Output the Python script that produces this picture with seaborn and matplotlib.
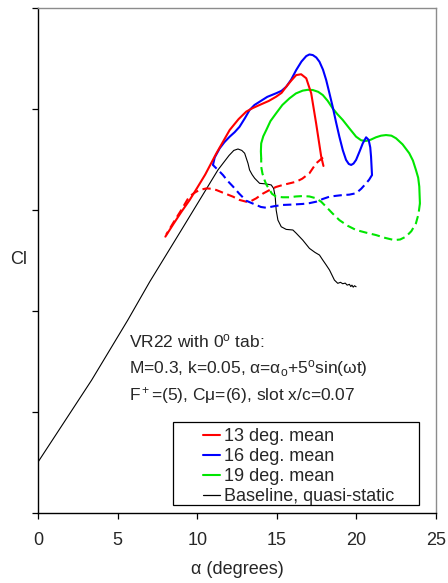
import numpy as np
import pandas as pd
import matplotlib
matplotlib.use("Agg")
import matplotlib.pyplot as plt
from matplotlib.lines import Line2D
from matplotlib.patches import Rectangle
import seaborn as sns

# ---- data: lift coefficient vs angle of attack ----
# 13 deg. mean, pitch-up (solid) and pitch-down (dashed)
red_up_alpha = [8.0, 8.5, 9.0, 9.53, 10.0, 10.5, 11.2, 12.04, 12.6, 13.08, 13.5, 13.92,
                14.5, 14.96, 15.3, 15.59, 15.9, 16.22, 16.53, 16.85, 17.16, 17.47, 17.79, 17.93]
red_up_cl = [1.368, 1.43, 1.49, 1.55, 1.61, 1.675, 1.78, 1.896, 1.95, 1.987, 2.005, 2.02,
             2.04, 2.061, 2.08, 2.11, 2.14, 2.168, 2.172, 2.152, 2.078, 1.929, 1.764, 1.718]
red_dn_alpha = [17.9, 17.47, 17.05, 16.6, 16.22, 15.8, 15.38, 14.95, 14.55, 14.1, 13.71, 13.4,
                13.08, 12.65, 12.25, 11.7, 11.2, 10.9, 10.58, 10.25, 9.95, 9.7, 9.45, 9.0, 8.5, 8.05]
red_dn_cl = [1.76, 1.731, 1.682, 1.655, 1.640, 1.632, 1.624, 1.614, 1.599, 1.58, 1.558, 1.545,
             1.541, 1.55, 1.566, 1.583, 1.599, 1.605, 1.607, 1.601, 1.591, 1.578, 1.56, 1.50,
             1.437, 1.378]

# 16 deg. mean
blue_up_alpha = [10.99, 11.1, 11.41, 11.7, 12.04, 12.35, 12.66, 13.0, 13.29, 13.6, 13.92, 14.4,
                 14.96, 15.3, 15.59, 15.9, 16.22, 16.55, 16.85, 17.05, 17.26, 17.48, 17.68, 17.9,
                 18.1, 18.3, 18.51, 18.72, 18.93, 19.15, 19.35, 19.52, 19.67, 19.82, 19.98, 20.2,
                 20.4, 20.61, 20.77, 20.87, 20.92, 20.98]
blue_up_cl = [1.723, 1.76, 1.805, 1.835, 1.863, 1.885, 1.912, 1.955, 1.995, 2.02, 2.036, 2.06,
              2.078, 2.09, 2.11, 2.145, 2.193, 2.235, 2.262, 2.27, 2.267, 2.255, 2.234, 2.195,
              2.144, 2.08, 2.011, 1.935, 1.863, 1.795, 1.748, 1.728, 1.723, 1.73, 1.748, 1.79,
              1.830, 1.860, 1.847, 1.81, 1.764, 1.673]
blue_dn_alpha = [20.98, 20.8, 20.61, 20.3, 19.98, 19.55, 19.14, 18.7, 18.31, 17.9, 17.47, 17.05,
                 16.63, 16.0, 15.38, 14.85, 14.34, 14.0, 13.71, 13.4, 13.08, 12.65, 12.25, 11.9,
                 11.62, 11.35, 11.1, 10.99]
blue_dn_cl = [1.673, 1.65, 1.632, 1.605, 1.583, 1.576, 1.574, 1.57, 1.566, 1.555, 1.541, 1.534,
              1.530, 1.527, 1.525, 1.519, 1.511, 1.515, 1.525, 1.535, 1.546, 1.58, 1.616, 1.645,
              1.673, 1.695, 1.714, 1.723]

# 19 deg. mean
green_up_alpha = [14.02, 14.0, 14.02, 14.15, 14.34, 14.6, 14.96, 15.35, 15.8, 16.2, 16.63, 16.95,
                  17.26, 17.6, 17.89, 18.2, 18.51, 18.8, 19.14, 19.55, 19.98, 20.3, 20.61, 20.9,
                  21.23, 21.55, 21.86, 22.2, 22.49, 22.9, 23.32, 23.55, 23.74, 23.88, 23.95, 23.99]
green_up_cl = [1.756, 1.79, 1.830, 1.865, 1.896, 1.94, 1.979, 2.02, 2.053, 2.077, 2.091, 2.095,
               2.094, 2.085, 2.069, 2.04, 2.003, 1.975, 1.946, 1.905, 1.863, 1.845, 1.842, 1.848,
               1.860, 1.868, 1.871, 1.868, 1.855, 1.825, 1.781, 1.745, 1.698, 1.66, 1.616, 1.533]
green_dn_alpha = [23.99, 23.9, 23.74, 23.45, 23.11, 22.75, 22.38, 21.8, 21.23, 20.6, 19.98, 19.45,
                  18.93, 18.5, 18.1, 17.8, 17.47, 17.05, 16.63, 16.2, 15.8, 15.38, 14.96, 14.7,
                  14.55, 14.35, 14.23, 14.1, 14.02, 14.02]
green_dn_cl = [1.533, 1.48, 1.434, 1.395, 1.368, 1.354, 1.351, 1.362, 1.376, 1.388, 1.401, 1.422,
               1.450, 1.483, 1.516, 1.540, 1.558, 1.567, 1.569, 1.567, 1.563, 1.563, 1.566, 1.58,
               1.599, 1.625, 1.648, 1.68, 1.714, 1.756]

# Baseline, quasi-static
base_alpha = [0.0, 3.37, 5.64, 7.02, 9.0, 11.3, 12.0, 12.3, 12.56, 12.8, 12.98, 13.19, 13.29,
              13.45, 13.61, 13.92, 14.34, 14.65, 14.80, 14.90, 14.96, 15.07, 15.28, 15.59, 16.01,
              16.22, 16.63, 17.05, 17.4, 17.68, 17.89, 18.1, 18.31, 18.62, 18.83, 19.0, 19.14,
              19.3, 19.42, 19.56, 19.65, 19.72, 19.8, 19.88, 19.98]
base_cl = [0.252, 0.658, 0.955, 1.145, 1.40, 1.698, 1.77, 1.795, 1.802, 1.795, 1.781, 1.731, 1.698,
           1.675, 1.657, 1.632, 1.629, 1.624, 1.607, 1.566, 1.500, 1.45, 1.417, 1.404, 1.401,
           1.385, 1.351, 1.310, 1.29, 1.277, 1.252, 1.228, 1.203, 1.153, 1.137, 1.142, 1.135,
           1.138, 1.128, 1.132, 1.121, 1.128, 1.118, 1.125, 1.120]

legend_labels = ["13 deg. mean", "16 deg. mean", "19 deg. mean", "Baseline, quasi-static"]
series_colors = ["#ff0000", "#0000ff", "#00e600", "#000000"]
x_ticks = [0, 5, 10, 15, 20, 25]
y_ticks = [0.0, 0.5, 1.0, 1.5, 2.0, 2.5]

# ---- styling ----
sns.set_style("ticks")
plt.rcParams["font.family"] = ["Liberation Sans", "DejaVu Sans"]
plt.rcParams["mathtext.fontset"] = "custom"
plt.rcParams["mathtext.rm"] = "Liberation Sans"
plt.rcParams["mathtext.it"] = "Liberation Sans"

W, H = 448, 583
fig = plt.figure(figsize=(W / 100, H / 100), dpi=100)
ax_l, ax_r, ax_t, ax_b = 38, 436, 8, 513
ax = fig.add_axes([ax_l / W, (H - ax_b) / H, (ax_r - ax_l) / W, (ax_b - ax_t) / H])

def draw(a, c, color, ls, lw):
    df = pd.DataFrame({"alpha": a, "cl": c})
    sns.lineplot(data=df, x="alpha", y="cl", sort=False, estimator=None, color=color,
                 linestyle=ls, linewidth=lw, ax=ax, legend=False)

dash = (0, (4.0, 2.2))
draw(base_alpha, base_cl, series_colors[3], "-", 0.8)
draw(red_dn_alpha, red_dn_cl, series_colors[0], dash, 1.5)
draw(blue_dn_alpha, blue_dn_cl, series_colors[1], dash, 1.5)
draw(green_dn_alpha, green_dn_cl, series_colors[2], dash, 1.5)
draw(green_up_alpha, green_up_cl, series_colors[2], "-", 1.5)
draw(blue_up_alpha, blue_up_cl, series_colors[1], "-", 1.5)
draw(red_up_alpha, red_up_cl, series_colors[0], "-", 1.5)

ax.set_xlim(0, 25)
ax.set_ylim(0, 2.5)
ax.set_xticks(x_ticks)
ax.set_yticks(y_ticks)
ax.set_yticklabels([])
ax.tick_params(axis="both", direction="out", length=4.5, width=0.9, color="black",
               labelsize=13, pad=9.5)
for side in ("left", "bottom"):
    ax.spines[side].set_color("black")
    ax.spines[side].set_linewidth(1.0)
for side in ("top", "right"):
    ax.spines[side].set_visible(True)
    ax.spines[side].set_color("#8c8c8c")
    ax.spines[side].set_linewidth(1.0)

ax.set_xlabel("α (degrees)", fontsize=13, labelpad=8)
ax.set_ylabel("")
fig.text(18.5 / W, 1 - 260 / H, "Cl", fontsize=13, ha="center", va="center")

# annotation block
tx = 129 / W
fig.text(tx, 1 - 347.3 / H, r"VR22 with 0$^\mathrm{o}$ tab:", fontsize=12.5, va="baseline")
fig.text(tx, 1 - 373.3 / H, r"M=0.3, k=0.05, α=α$_\mathrm{o}$+5$^\mathrm{o}$sin(ωt)",
         fontsize=12.5, va="baseline")
fig.text(tx, 1 - 400 / H, r"F$^+$=(5), Cμ=(6), slot x/c=0.07", fontsize=12.5, va="baseline")

# legend with a plain rectangular frame
handles = [Line2D([], [], color=c, lw=1.5 if i < 3 else 0.9) for i, c in enumerate(series_colors)]
leg = ax.legend(handles, legend_labels, loc="upper left",
                bbox_to_anchor=(202.7 / W, 1 - 428 / H), bbox_transform=fig.transFigure,
                frameon=False, fontsize=13, handlelength=0.96, handletextpad=0.22,
                borderpad=0, borderaxespad=0, labelspacing=0.175)
fig.patches.append(Rectangle((173.3 / W, 1 - 505 / H), (419.3 - 173.3) / W, (505 - 421.7) / H,
                             transform=fig.transFigure, fill=False, edgecolor="black",
                             linewidth=0.9, zorder=5))

fig.savefig("out.png", dpi=100)
